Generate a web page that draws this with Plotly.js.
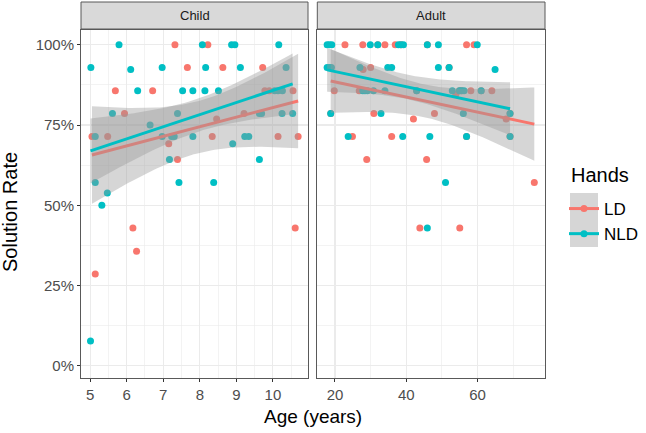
<!DOCTYPE html>
<html>
<head>
<meta charset="utf-8">
<script src="https://cdn.plot.ly/plotly-3.0.1.min.js"></script>
<style>html,body{margin:0;padding:0;background:#fff;}#chart{width:646px;height:433px;}</style>
</head>
<body>
<div id="chart"></div>
<script>
// ---------- Data (some LD points sit hidden under NLD points) ----------
const childAgeLD  = [7.32, 8.22, 5.69, 6.71, 5.94, 5.05, 5.48, 7.15, 7.39, 7.66, 8.63, 9.72, 9.78, 9.90, 10.55, 8.46, 9.21, 8.34, 10.14, 10.69, 6.17, 6.27, 5.14, 10.61];
const childRateLD = [1.0, 1.0, 0.857, 0.857, 0.786, 0.714, 0.714, 0.692, 0.643, 0.929, 0.929, 0.929, 0.857, 0.857, 0.857, 0.769, 0.786, 0.714, 0.714, 0.714, 0.429, 0.357, 0.286, 0.429];

const childAgeNLD  = [5.02, 5.79, 6.11, 6.97, 6.30, 5.61, 7.39, 6.64, 5.14, 6.97, 7.23, 7.30, 7.17, 5.14, 5.47, 5.32, 5.01, 8.07, 8.87, 8.96, 10.16, 8.16, 9.11, 10.36, 7.53, 7.81, 8.14, 8.51, 10.05, 10.14, 10.26, 9.63, 9.69, 10.25, 10.54, 7.81, 8.90, 9.23, 9.34, 9.63, 7.43, 8.38];
const childRateNLD = [0.929, 1.0, 0.923, 0.929, 0.857, 0.786, 0.786, 0.75, 0.714, 0.714, 0.714, 0.714, 0.643, 0.571, 0.538, 0.5, 0.077, 1.0, 1.0, 1.0, 1.0, 0.929, 0.929, 0.929, 0.857, 0.857, 0.857, 0.857, 0.857, 0.857, 0.857, 0.786, 0.786, 0.786, 0.786, 0.714, 0.692, 0.714, 0.714, 0.643, 0.571, 0.571];

const adultAgeLD  = [22.8, 27.8, 34.0, 36.9, 56.9, 59.0, 27.9, 30.0, 19.8, 26.8, 58.1, 64.0, 53.9, 30.9, 47.9, 42.0, 68.0, 24.9, 35.9, 28.9, 45.7, 75.9, 43.8, 55.0,
                     18.8, 45.9, 52.0, 38.5, 42.9, 55.5, 69.1, 56.9, 32.0, 61.0, 69.1, 54.9];
const adultRateLD = [1.0, 1.0, 1.0, 1.0, 1.0, 1.0, 0.923, 0.929, 0.857, 0.857, 0.857, 0.857, 0.846, 0.786, 0.786, 0.769, 0.769, 0.714, 0.714, 0.643, 0.643, 0.571, 0.429, 0.429,
                     0.786, 1.0, 0.929, 1.0, 0.857, 0.857, 0.714, 0.714, 1.0, 0.857, 0.786, 0.857];

const adultAgeNLD  = [17.8, 18.4, 19.1, 29.9, 32.0, 37.8, 38.5, 39.2, 45.9, 49.0, 59.9, 17.8, 18.4, 19.0, 27.0, 34.8, 35.9, 49.0, 52.0, 64.9, 27.8, 28.4, 29.1, 30.8, 34.0, 42.9, 52.9, 54.9, 55.5, 56.2, 61.0, 18.8, 32.9, 56.0, 69.1, 23.7, 39.0, 46.6, 56.9, 69.1, 51.0, 45.9];
const adultRateNLD = [1.0, 1.0, 1.0, 1.0, 1.0, 1.0, 1.0, 1.0, 1.0, 1.0, 1.0, 0.929, 0.929, 0.929, 0.929, 0.929, 0.929, 0.929, 0.929, 0.923, 0.857, 0.857, 0.857, 0.857, 0.857, 0.857, 0.857, 0.857, 0.857, 0.857, 0.857, 0.786, 0.786, 0.786, 0.786, 0.714, 0.714, 0.714, 0.714, 0.714, 0.571, 0.429];

const groups = ['LD', 'NLD'];
const facets = ['Child', 'Adult'];
const yTickVals = [0, 0.25, 0.5, 0.75, 1];
const yTickText = ['0%', '25%', '50%', '75%', '100%'];
const childTicks = [5, 6, 7, 8, 9, 10, 11];
const adultTicks = [20, 40, 60];

// ---------- Styling ----------
const COL = {LD: '#F8766D', NLD: '#00BFC4'};
const RIBBON = 'rgba(153,153,153,0.4)';
const GRID = '#EBEBEB';
const BORDER = '#595959';
const FONT = 'Liberation Sans, Arial, Helvetica, sans-serif';

// ---------- Linear model with 95% CI (like geom_smooth(method = "lm")) ----------
function qt975(df) {
  const z = 1.959963985;
  const g1 = (Math.pow(z,3) + z) / 4;
  const g2 = (5*Math.pow(z,5) + 16*Math.pow(z,3) + 3*z) / 96;
  const g3 = (3*Math.pow(z,7) + 19*Math.pow(z,5) + 17*Math.pow(z,3) - 15*z) / 384;
  return z + g1/df + g2/(df*df) + g3/(df*df*df);
}
function lmSmooth(xs, ys, npts) {
  const n = xs.length;
  const mx = xs.reduce((a,b)=>a+b,0)/n, my = ys.reduce((a,b)=>a+b,0)/n;
  let sxx = 0, sxy = 0;
  for (let i=0;i<n;i++){ sxx += (xs[i]-mx)*(xs[i]-mx); sxy += (xs[i]-mx)*(ys[i]-my); }
  const b = sxy/sxx, a = my - b*mx;
  let rss = 0;
  for (let i=0;i<n;i++){ const r = ys[i] - (a + b*xs[i]); rss += r*r; }
  const s = Math.sqrt(rss/(n-2)), t = qt975(n-2);
  const lo = Math.min(...xs), hi = Math.max(...xs);
  const gx = [], fit = [], lower = [], upper = [];
  for (let k=0;k<npts;k++){
    const x = lo + (hi-lo)*k/(npts-1);
    const f = a + b*x;
    const se = s*Math.sqrt(1/n + (x-mx)*(x-mx)/sxx);
    gx.push(x); fit.push(f); lower.push(f - t*se); upper.push(f + t*se);
  }
  return {gx, fit, lower, upper};
}

const dataSets = {
  Child: {LD: [childAgeLD, childRateLD], NLD: [childAgeNLD, childRateNLD]},
  Adult: {LD: [adultAgeLD, adultRateLD], NLD: [adultAgeNLD, adultRateNLD]}
};
const axisOf = {Child: ['x', 'y'], Adult: ['x2', 'y2']};

const traces = [];
facets.forEach(f => {
  groups.forEach(g => {
    const [xs, ys] = dataSets[f][g];
    traces.push({
      type: 'scatter', mode: 'markers', x: xs, y: ys,
      xaxis: axisOf[f][0], yaxis: axisOf[f][1],
      marker: {color: COL[g], size: 7, line: {width: 0}},
      showlegend: false, hoverinfo: 'skip'
    });
  });
});
facets.forEach(f => {
  groups.forEach(g => {
    const [xs, ys] = dataSets[f][g];
    const sm = lmSmooth(xs, ys, 80);
    traces.push({
      type: 'scatter', mode: 'lines',
      x: sm.gx.concat(sm.gx.slice().reverse()),
      y: sm.upper.concat(sm.lower.slice().reverse()),
      fill: 'toself', fillcolor: RIBBON, line: {width: 0},
      xaxis: axisOf[f][0], yaxis: axisOf[f][1],
      showlegend: false, hoverinfo: 'skip'
    });
    traces.push({
      type: 'scatter', mode: 'lines', x: sm.gx, y: sm.fit,
      line: {color: COL[g], width: 3},
      xaxis: axisOf[f][0], yaxis: axisOf[f][1],
      showlegend: false, hoverinfo: 'skip'
    });
  });
});
groups.forEach(g => {
  traces.push({
    type: 'scatter', mode: 'lines+markers', x: [null], y: [null], name: g,
    line: {color: COL[g], width: 3}, marker: {color: COL[g], size: 7},
    showlegend: true, hoverinfo: 'skip'
  });
});

const tickFont = {family: FONT, size: 15, color: '#4D4D4D'};
const baseAxis = {
  showline: true, mirror: true, linecolor: BORDER, linewidth: 1,
  showgrid: true, gridcolor: GRID, gridwidth: 1.1, zeroline: false,
  ticks: 'outside', ticklen: 3, tickwidth: 1, tickcolor: '#333333',
  tickfont: tickFont, fixedrange: true
};

const W = 646, H = 433;
const M = {l: 81, r: 101, t: 30, b: 55, autoexpand: false};
const plotW = W - M.l - M.r, plotH = H - M.t - M.b;
const px2xp = px => (px - M.l) / plotW;
const py2yp = py => (H - M.b - py) / plotH;

const layout = {
  width: W, height: H, margin: M,
  paper_bgcolor: '#fff', plot_bgcolor: '#fff',
  font: {family: FONT, color: '#000'},
  showlegend: true,
  legend: {
    x: px2xp(564), y: py2yp(191), xanchor: 'left', yanchor: 'top',
    font: {family: FONT, size: 17, color: '#000'},
    bgcolor: 'rgba(0,0,0,0)', borderwidth: 0, itemwidth: 30, tracegroupgap: 0
  },
  xaxis: Object.assign({}, baseAxis, {
    domain: [0, px2xp(308)], range: [4.75, 10.96],
    tickvals: childTicks, ticktext: childTicks.map(String),
    minor: {dtick: 0.5, tick0: 4.5, showgrid: true, gridcolor: GRID, gridwidth: 0.6, ticks: ''},
    anchor: 'y'
  }),
  xaxis2: Object.assign({}, baseAxis, {
    domain: [px2xp(317.3), 1], range: [15.04, 78.9],
    tickvals: adultTicks, ticktext: adultTicks.map(String),
    minor: {dtick: 10, tick0: 10, showgrid: true, gridcolor: GRID, gridwidth: 0.6, ticks: ''},
    anchor: 'y2'
  }),
  yaxis: Object.assign({}, baseAxis, {
    domain: [0, 1], range: [-0.038, 1.046],
    tickvals: yTickVals, ticktext: yTickText,
    minor: {dtick: 0.125, tick0: 0.125, showgrid: true, gridcolor: GRID, gridwidth: 0.6, ticks: ''},
    anchor: 'x'
  }),
  yaxis2: Object.assign({}, baseAxis, {
    domain: [0, 1], range: [-0.038, 1.046], matches: 'y',
    tickvals: yTickVals, showticklabels: false, ticks: '',
    minor: {dtick: 0.125, tick0: 0.125, showgrid: true, gridcolor: GRID, gridwidth: 0.6, ticks: ''},
    anchor: 'x2'
  }),
  shapes: [
    {type: 'rect', xref: 'paper', yref: 'paper', x0: 0, x1: px2xp(308), y0: py2yp(29), y1: py2yp(2),
     fillcolor: '#D9D9D9', line: {color: BORDER, width: 1}},
    {type: 'rect', xref: 'paper', yref: 'paper', x0: px2xp(317.3), x1: 1, y0: py2yp(29), y1: py2yp(2),
     fillcolor: '#D9D9D9', line: {color: BORDER, width: 1}},
    {type: 'rect', xref: 'paper', yref: 'paper', x0: px2xp(570), x1: px2xp(598), y0: py2yp(247), y1: py2yp(193),
     fillcolor: '#D6D6D6', line: {width: 0}, layer: 'below'}
  ],
  annotations: [
    {text: 'Child', xref: 'paper', yref: 'paper', x: px2xp(194.5), y: py2yp(15.5), showarrow: false,
     xanchor: 'center', yanchor: 'middle', font: {family: FONT, size: 13, color: '#1A1A1A'}},
    {text: 'Adult', xref: 'paper', yref: 'paper', x: px2xp(431), y: py2yp(15.5), showarrow: false,
     xanchor: 'center', yanchor: 'middle', font: {family: FONT, size: 13, color: '#1A1A1A'}},
    {text: 'Hands', xref: 'paper', yref: 'paper', x: px2xp(569), y: py2yp(175), showarrow: false,
     xanchor: 'left', yanchor: 'middle', font: {family: FONT, size: 20, color: '#000'}},
    {text: 'Age (years)', xref: 'paper', yref: 'paper', x: px2xp(313), y: py2yp(416), showarrow: false,
     xanchor: 'center', yanchor: 'middle', font: {family: FONT, size: 19, color: '#000'}},
    {text: 'Solution Rate', xref: 'paper', yref: 'paper', x: px2xp(10), y: py2yp(212), showarrow: false,
     textangle: -90, xanchor: 'center', yanchor: 'middle', font: {family: FONT, size: 20, color: '#000'}}
  ]
};

Plotly.newPlot('chart', traces, layout, {displayModeBar: false, staticPlot: true});
</script>
</body>
</html>
